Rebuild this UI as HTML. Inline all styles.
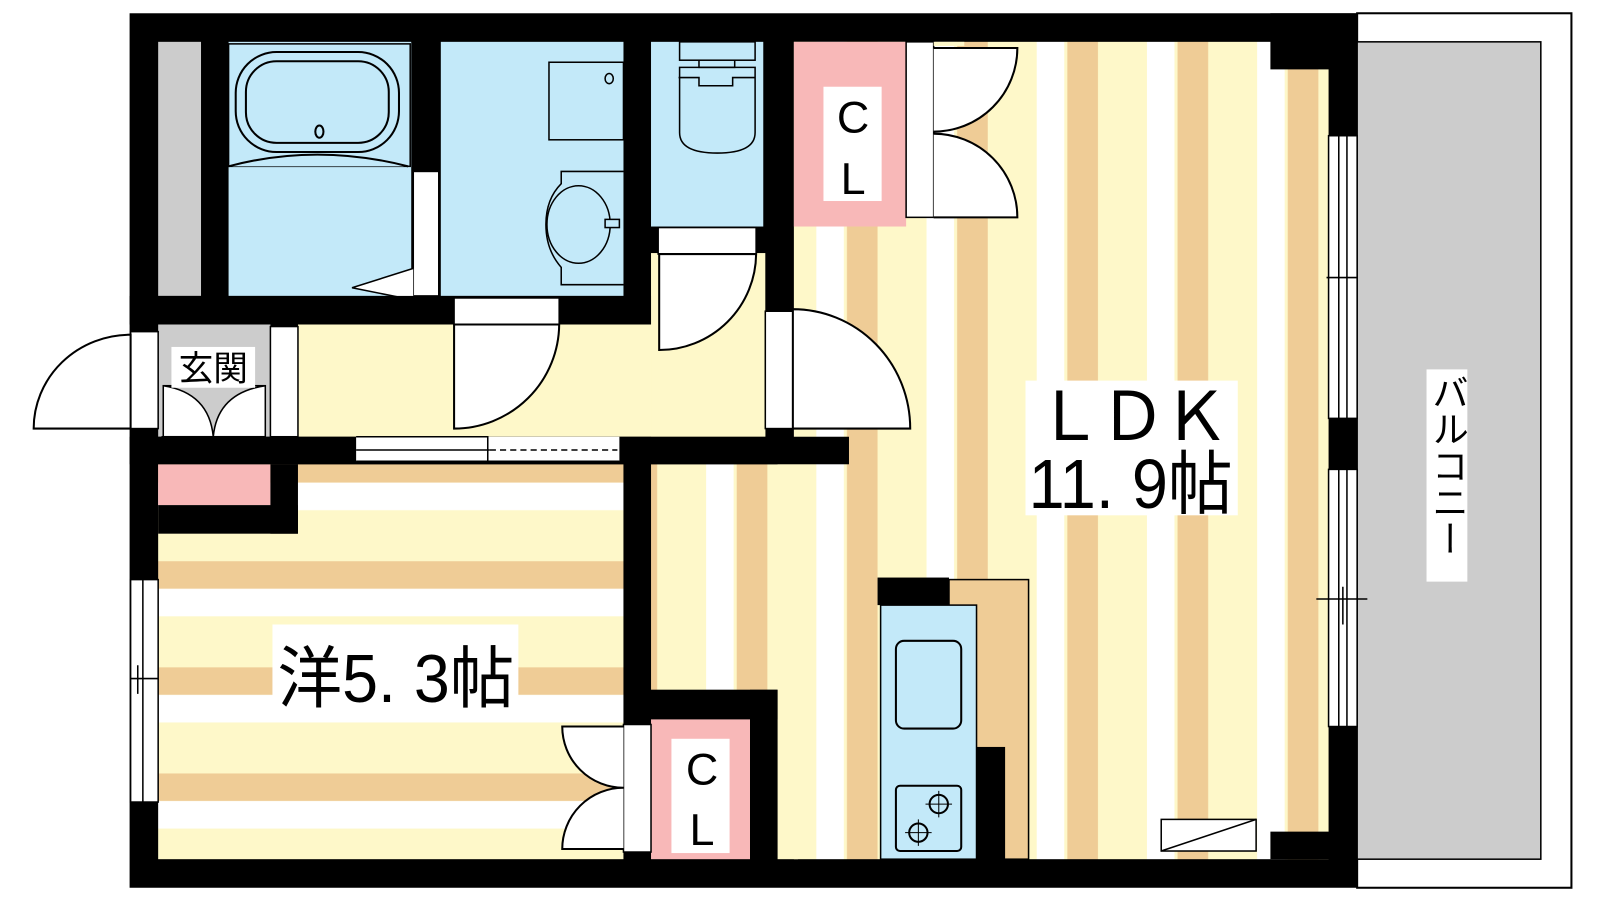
<!DOCTYPE html>
<html><head><meta charset="utf-8"><style>
html,body{margin:0;padding:0;background:#fff;width:1600px;height:900px;overflow:hidden}
svg{display:block}
text{font-family:"Liberation Sans","Noto Sans CJK JP",sans-serif;fill:#000}
</style></head><body>
<svg width="1600" height="900" viewBox="0 0 1568 882" preserveAspectRatio="none" xmlns="http://www.w3.org/2000/svg">
<defs>
<pattern id="vs" patternUnits="userSpaceOnUse" x="800" y="0" width="108" height="10">
<rect width="108" height="10" fill="#fef8c9"/>
<rect x="0" width="27" height="10" fill="#fff"/>
<rect x="30" width="30" height="10" fill="#efcc96"/>
</pattern>
<pattern id="hs" patternUnits="userSpaceOnUse" x="0" y="446" width="10" height="104">
<rect width="10" height="104" fill="#fef8c9"/>
<rect y="0" width="10" height="27" fill="#efcc96"/>
<rect y="27" width="10" height="27" fill="#fff"/>
</pattern>
</defs>
<rect x="1330" y="13" width="210" height="857" fill="#fff" stroke="#000" stroke-width="2"/>
<rect x="1330" y="41" width="180" height="801" fill="#cccccc" stroke="#000" stroke-width="1.5"/>
<rect x="1398" y="362" width="40" height="208" fill="#fff"/>
<text x="1418" y="366" font-size="36" text-anchor="start" writing-mode="tb" style="writing-mode:vertical-rl">バルコニー</text>

<rect x="127" y="13" width="1203" height="857" fill="#000"/>

<rect x="778" y="41" width="524" height="801" fill="url(#vs)"/>
<rect x="638" y="455" width="140" height="221" fill="url(#vs)"/>
<rect x="762" y="441" width="20" height="401" fill="url(#vs)"/>
<rect x="292" y="318" width="458" height="110" fill="#fef8c9"/>
<rect x="638" y="248" width="112" height="180" fill="#fef8c9"/>
<rect x="155" y="455" width="456" height="387" fill="url(#hs)"/>
<rect x="155" y="318" width="110" height="110" fill="#cccccc"/>
<rect x="155" y="455" width="110" height="40" fill="#f8b8b8"/>
<rect x="155" y="495" width="137" height="28" fill="#000"/>
<rect x="265" y="455" width="27" height="68" fill="#000"/>
<rect x="155" y="41" width="42" height="249" fill="#cccccc"/>
<rect x="224" y="41" width="179" height="249" fill="#c3e9f9"/>
<rect x="224" y="43" width="178" height="120" fill="none" stroke="#000" stroke-width="1.5"/>
<rect x="231" y="51" width="160" height="98" rx="40" fill="none" stroke="#000" stroke-width="2"/>
<rect x="241" y="60" width="140" height="80" rx="30" fill="none" stroke="#000" stroke-width="2"/>
<ellipse cx="313" cy="129" rx="4" ry="6" fill="none" stroke="#000" stroke-width="2"/>
<path d="M224 163 Q310 140 400 163" fill="#c3e9f9" stroke="#000" stroke-width="2"/>
<rect x="405" y="168" width="25" height="122" fill="#fff" stroke="#000" stroke-width="1.5"/>
<path d="M405 263 L345 282 L405 294" fill="#fff" stroke="#000" stroke-width="1.5"/>
<rect x="432" y="41" width="179" height="249" fill="#c3e9f9"/>
<rect x="538" y="61" width="73" height="76" fill="none" stroke="#000" stroke-width="1.5"/>
<ellipse cx="597" cy="77" rx="4" ry="5" fill="none" stroke="#000" stroke-width="1.5"/>
<path d="M611 168 L550 168 L550 180 Q535 195 535 220 Q535 245 550 262 L550 279 L611 279" fill="none" stroke="#000" stroke-width="1.5"/>
<ellipse cx="567" cy="220" rx="31" ry="38" fill="none" stroke="#000" stroke-width="1.5"/>
<rect x="593" y="215" width="14" height="8" fill="#c3e9f9" stroke="#000" stroke-width="1.5"/>
<rect x="638" y="41" width="110" height="181" fill="#c3e9f9"/>
<rect x="666" y="41" width="74" height="18" fill="none" stroke="#000" stroke-width="1.5"/>
<path d="M666 66 L740 66 L740 130 Q740 150 703 150 Q666 150 666 130 Z" fill="none" stroke="#000" stroke-width="1.5"/>
<path d="M685 59 L685 66 L720 66 L720 59 M665 76 L685 76 L685 84 L718 84 L718 76 L740 76" fill="none" stroke="#000" stroke-width="1.5"/>
<rect x="645" y="223" width="96" height="26" fill="#fff" stroke="#000" stroke-width="1.5"/>
<rect x="778" y="41" width="110" height="181" fill="#f8b8b8"/>
<rect x="807" y="85" width="57" height="112" fill="#fff"/>
<text x="836" y="130" font-size="44" text-anchor="middle">C</text>
<text x="836" y="190" font-size="44" text-anchor="middle">L</text>
<rect x="888" y="41" width="27" height="172" fill="#fff" stroke="#000" stroke-width="1.5"/>
<path d="M915 47 L997 47 A82 82 0 0 1 915 129 M915 131 A82 82 0 0 1 997 213 L915 213" fill="#fff" stroke="#000" stroke-width="2"/>
<rect x="915" y="41" width="30" height="4" fill="#fef8c9"/>
<rect x="127" y="290" width="511" height="28" fill="#000"/>
<rect x="445" y="292" width="103" height="26" fill="#fff" stroke="#000" stroke-width="1.5"/>
<path d="M445 318 L548 318 A103 103 0 0 1 445 420 Z" fill="#fff" stroke="#000" stroke-width="2"/>
<path d="M646 249 L741 249 A95 95 0 0 1 646 343 Z" fill="#fff" stroke="#000" stroke-width="2"/>
<rect x="750" y="305" width="27" height="115" fill="#fff" stroke="#000" stroke-width="1.5"/>
<path d="M777 303 A115 117 0 0 1 892 420 L777 420 Z" fill="#fff" stroke="#000" stroke-width="2"/>
<rect x="128" y="325" width="27" height="95" fill="#fff" stroke="#000" stroke-width="1.5"/>
<path d="M128 328 A95 92 0 0 0 33 420 L128 420 Z" fill="#fff" stroke="#000" stroke-width="2"/>
<rect x="265" y="320" width="27" height="108" fill="#fff" stroke="#000" stroke-width="1.5"/>
<rect x="160" y="378" width="100" height="50" fill="#fff" stroke="#000" stroke-width="1.5"/>
<path d="M160 378 Q205 385 209 428 Q213 385 260 378 Z" fill="#cccccc" stroke="#000" stroke-width="1.5"/>
<rect x="159" y="428" width="100" height="25" fill="#fff" stroke="#000" stroke-width="1.5"/>
<rect x="168" y="340" width="82" height="40" fill="#fff"/>
<text x="209" y="373" font-size="34" text-anchor="middle">玄関</text>
<rect x="127" y="428" width="705" height="27" fill="#000"/>
<rect x="349" y="428" width="258" height="24" fill="#fff"/>
<path d="M349 428 L478 428 L478 452 M349 441 L605 441 M349 452 L607 452" fill="none" stroke="#000" stroke-width="1.5"/>
<path d="M480 441 L605 441" stroke="#fff" stroke-width="2"/>
<path d="M480 441 L605 441" stroke="#000" stroke-width="1.5" stroke-dasharray="6 4"/>
<rect x="611" y="441" width="27" height="401" fill="#000"/>
<rect x="638" y="676" width="124" height="29" fill="#000"/>
<rect x="735" y="676" width="27" height="166" fill="#000"/>
<rect x="638" y="705" width="97" height="137" fill="#f8b8b8"/>
<rect x="658" y="724" width="57" height="112" fill="#fff"/>
<text x="688" y="769" font-size="44" text-anchor="middle">C</text>
<text x="688" y="828" font-size="44" text-anchor="middle">L</text>
<rect x="611" y="710" width="27" height="125" fill="#fff" stroke="#000" stroke-width="1.5"/>
<path d="M611 712 L551 712 A60 60 0 0 0 611 772 A60 60 0 0 0 551 832 L611 832" fill="#fff" stroke="#000" stroke-width="2"/>
<rect x="128" y="568" width="27" height="218" fill="#fff" stroke="#000" stroke-width="1.5"/>
<path d="M140 568 L140 786 M128 665 L155 665 M135 652 L135 680" stroke="#000" stroke-width="1.5"/>
<rect x="267" y="612" width="241" height="80" fill="#fff"/>
<text x="388" y="688" font-size="66" text-anchor="middle" textLength="232" lengthAdjust="spacingAndGlyphs">洋5. 3帖</text>
<rect x="930" y="568" width="78" height="274" fill="#efcc96" stroke="#000" stroke-width="1.5"/>
<rect x="863" y="593" width="94" height="249" fill="#c3e9f9" stroke="#000" stroke-width="1.5"/>
<rect x="860" y="566" width="70" height="27" fill="#000"/>
<rect x="957" y="732" width="28" height="110" fill="#000"/>
<rect x="878" y="628" width="64" height="86" rx="8" fill="none" stroke="#000" stroke-width="2"/>
<rect x="878" y="770" width="64" height="64" rx="4" fill="none" stroke="#000" stroke-width="2"/>
<circle cx="920" cy="788" r="9" fill="none" stroke="#000" stroke-width="2"/>
<circle cx="900" cy="816" r="9" fill="none" stroke="#000" stroke-width="2"/>
<path d="M920 775v26M907 788h26M900 803v26M887 816h26" stroke="#000" stroke-width="1"/>
<rect x="1302" y="133" width="28" height="277" fill="#fff" stroke="#000" stroke-width="1.5"/>
<rect x="1302" y="460" width="28" height="252" fill="#fff" stroke="#000" stroke-width="1.5"/>
<path d="M1312 133V410M1320 133V410M1312 460V712M1320 460V712M1300 272H1330M1290 587H1340M1316 575V612" stroke="#000" stroke-width="1.5"/>
<rect x="1245" y="13" width="85" height="55" fill="#000"/>
<rect x="1245" y="815" width="85" height="27" fill="#000"/>
<rect x="1138" y="803" width="93" height="31" fill="#fff" stroke="#000" stroke-width="1.5"/>
<path d="M1138 834 L1231 803" stroke="#000" stroke-width="1.5"/>
<rect x="1005" y="373" width="208" height="132" fill="#fff"/>
<text x="1110" y="431" font-size="66" text-anchor="middle" textLength="190" lengthAdjust="spacing">ＬＤＫ</text>
<text x="1108" y="498" font-size="68" text-anchor="middle" textLength="200" lengthAdjust="spacingAndGlyphs">11. 9帖</text>
</svg>
</body></html>
